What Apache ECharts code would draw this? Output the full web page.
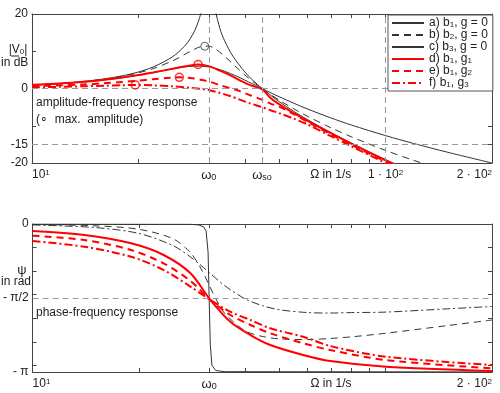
<!DOCTYPE html>
<html><head><meta charset="utf-8">
<script src="https://cdn.jsdelivr.net/npm/echarts@6/dist/echarts.min.js"></script>
<style>html,body{margin:0;padding:0;background:#fff}#c{width:500px;height:393px}</style>
</head><body><div id="c"></div>
<script>
// ---------- DATA ----------
// Amplitude-frequency response (dB) vs Omega (1/s)
const omegaC = [10,12,14,16,18,20,22,25,27,28,29,30,30.5,31,32,32.5,33,34,35,37,40,42,45,50,55,60,70,80,90,100,110];
const ampC   = [0.92,1.35,1.90,2.57,3.41,4.44,5.76,8.54,11.34,13.31,15.97,20.0,23.1,28.2,32.4,25.0,21.0,16.1,12.96,8.66,4.44,2.34,-0.21,-3.52,-6.13,-8.30,-11.82,-14.65,-17.03,-19.08,-20.9];
const omegaAB = [10,12,14,16,18,20,22,25,28,30,31.62,33,35,38,40,42,45,50,55,60,70,80,100,120,150,200];
const ampA   = [0.9,1.3,1.76,2.3,2.91,3.58,4.28,5.28,5.95,6.0,5.78,5.41,4.66,3.26,2.25,1.28,-0.14,-2.21,-3.95,-5.46,-7.89,-9.80,-12.65,-14.75,-17.13,-20.0];
const ampB   = [0.91,1.34,1.86,2.51,3.28,4.22,5.34,7.44,9.93,11.24,11.38,10.64,8.71,5.55,3.63,1.98,-0.21,-3.13,-5.45,-7.41,-10.53,-12.97,-16.62,-19.28,-22.25,-25.7];
const omegaD = [10,12,14,16,18,20,22,25,28,29.5,31.62,34,36.3,38.7,41.4,44.7,47.1,50.3,55,60,70,80,100,120];
const ampD   = [1.0,1.35,1.8,2.35,2.95,3.6,4.3,5.3,6.15,6.45,6.0,4.8,3.6,2.2,0.9,-0.2,-2.4,-4.4,-6.6,-8.6,-12.0,-14.8,-19.3,-22.8];
const omegaE = [10,12,14,16,18,20,22,24,26.1,28,30,31.62,34,36.3,38.7,41.4,44.7,47.1,50.3,55,60,70,80,100,120];
const ampE   = [0.65,0.85,1.1,1.4,1.75,2.1,2.5,2.8,3.0,2.85,2.35,1.9,0.9,0.1,-0.7,-1.8,-3.0,-4.0,-5.0,-6.9,-8.9,-12.3,-15.1,-19.6,-23.1];
const omegaF = [10,12,14,16,18,19.6,22,25,28,31.62,34,36.3,38.7,41.4,44.7,47.1,50.3,55,60,70,80,100,120];
const ampF   = [0.3,0.45,0.6,0.75,0.88,0.94,0.85,0.6,0.2,-0.4,-1.2,-2.0,-3.0,-4.0,-5.0,-5.8,-6.7,-8.1,-9.6,-12.8,-15.5,-20.0,-23.5];
// maximum-amplitude markers [Omega, dB]
const peakB = [30.8, 11.35];
const peakD = [29.5, 6.45];
const peakE = [26.1, 3.0];
const peakF = [19.6, 0.94];

// Phase-frequency response (rad)
const omegaPc = [10,28,29.5,30.5,31,31.4,31.62,31.85,32.2,33,35,200];
const phaseC  = [0,-0.005,-0.02,-0.06,-0.15,-0.6,-1.571,-2.55,-3.0,-3.11,-3.135,-3.14];
const omegaPab = [10,15,20,25,28,30,31.62,33,35,40,45,50,60,70,80,100,150,200];
const phaseA  = [-0.02,-0.075,-0.20,-0.46,-0.70,-0.88,-1.03,-1.15,-1.31,-1.59,-1.74,-1.82,-1.88,-1.89,-1.88,-1.87,-1.80,-1.75];
const phaseB  = [-0.01,-0.038,-0.112,-0.315,-0.611,-0.951,-1.298,-1.583,-1.898,-2.268,-2.391,-2.438,-2.452,-2.429,-2.395,-2.319,-2.155,-2.039];
const omegaPr = [10,14,19,23.5,28,31.9,36.3,41.4,47.1,58.4,69.6,100,200];
const phaseD  = [-0.149,-0.234,-0.41,-0.658,-1.047,-1.614,-2.074,-2.357,-2.569,-2.781,-2.909,-3.03,-3.12];
const phaseE  = [-0.248,-0.34,-0.552,-0.834,-1.21,-1.614,-1.932,-2.144,-2.32,-2.532,-2.675,-2.887,-3.064];
const phaseF  = [-0.361,-0.482,-0.694,-0.977,-1.331,-1.614,-1.862,-2.038,-2.214,-2.393,-2.59,-2.817,-2.994];

// Axis ticks / labels
const xTickVals = [20, 31.62, 40, 50, 60, 70, 80, 90, 100];
const topXLabelVals = [10, 31.62, 44.72, 70, 100, 200];
const topXLabels = ['10{sup|1}', '{g|ω}{sub|0}', '{g|ω}{sub|so}', 'Ω in 1/s', '1 · 10{sup|2}', '2 · 10{sup|2}'];
const botXLabelVals = [10, 31.62, 70, 200];
const botXLabels = ['10{sup|1}', '{g|ω}{sub|0}', 'Ω in 1/s', '2 · 10{sup|2}'];
const ampTicks = [-20, -15, -10, 0, 10, 20];
const ampLabelVals = [-20, -15, 0, 20];
const phaseTicks = [0, -0.5, -1, -1.5, -2, -2.5, -3];
const phaseLabelVals = [-Math.PI, -Math.PI / 2, 0];
const phaseLabels = ['- π', '- π/2', '0'];
const ampGridX = [31.62, 44.72, 100];
const ampGridY = [0, -15];
const phaseGridY = [-Math.PI / 2];
const legendNames = ['a) b1, g = 0', 'b) b2, g = 0', 'c) b3, g = 0', 'd) b1, g1', 'e) b1, g2', 'f) b1, g3'];

// ---------- CHART ----------
const FONT = '"Liberation Sans", Arial, sans-serif';
const TXT = '#222';
const AX = '#444';
const RED = '#ff0000';
const BLK = '#333';
const pair = (xs, ys) => xs.map((x, i) => [x, ys[i]]);
const LOG = v => Math.log10(v);
const DEC_MIN = 1, DEC_MAX = Math.log10(200);
function lookup(vals, labels) {
  return v => { let b = 0, bd = Infinity; vals.forEach((x, i) => { const d = Math.abs(x - v); if (d < bd) { bd = d; b = i; } }); return labels[b]; };
}
const richX = {
  sup: { fontSize: 8, verticalAlign: 'top', fontFamily: FONT, color: TXT },
  sub: { fontSize: 9, verticalAlign: 'bottom', fontFamily: FONT, color: TXT },
  g: { fontSize: 13, fontFamily: FONT, color: TXT }
};
function decoX(grid, pos, vals, labels) {
  return {
    type: 'value', gridIndex: grid, position: pos, min: DEC_MIN, max: DEC_MAX,
    splitLine: { show: false },
    axisLine: { show: true, onZero: false, lineStyle: { color: AX, width: 1 } },
    axisTick: { show: true, inside: true, length: 4, customValues: xTickVals.map(LOG), lineStyle: { color: AX } },
    axisLabel: vals ? {
      show: true, customValues: vals.map(LOG), formatter: lookup(vals.map(LOG), labels),
      rich: richX, fontSize: 12, fontFamily: FONT, color: TXT, margin: 6,
      alignMinLabel: 'left', alignMaxLabel: 'right', hideOverlap: false
    } : { show: false }
  };
}
function yAx(grid, pos, min, max, ticks, lvals, labels) {
  return {
    type: 'value', gridIndex: grid, position: pos, min: min, max: max,
    splitLine: { show: false },
    axisLine: { show: true, onZero: false, lineStyle: { color: AX, width: 1 } },
    axisTick: { show: true, inside: true, length: 4, customValues: ticks, lineStyle: { color: AX } },
    axisLabel: lvals ? {
      show: true, customValues: lvals, formatter: lookup(lvals, labels),
      fontSize: 12, fontFamily: FONT, color: TXT, margin: 4, hideOverlap: false
    } : { show: false }
  };
}
function line(name, xi, yi, data, color, width, type, z) {
  return {
    type: 'line', name: name, xAxisIndex: xi, yAxisIndex: yi, data: data,
    showSymbol: false, symbol: 'none', smooth: 0.3, clip: true, z: z || 3,
    lineStyle: { color: color, width: width, type: type },
    itemStyle: { color: color }, animation: false, silent: true
  };
}
function peak(pt, color, w) {
  return {
    type: 'scatter', xAxisIndex: 0, yAxisIndex: 0, data: [pt], symbol: 'circle', symbolSize: 8, z: 6,
    itemStyle: { color: 'rgba(0,0,0,0)', borderColor: color, borderWidth: w }, animation: false, silent: true
  };
}
const gridLineStyle = { color: '#999', width: 1, type: [6, 4] };
const DASH = [7, 5];
const DASHDOT = [8, 3, 2, 3];

const chart = echarts.init(document.getElementById('c'), null, { renderer: 'canvas' });
chart.setOption({
  animation: false,
  backgroundColor: '#fff',
  textStyle: { fontFamily: FONT },
  grid: [
    { left: 32, right: 8, top: 14, height: 149 },
    { left: 32, right: 8, top: 224, height: 148 }
  ],
  xAxis: [
    { type: 'log', logBase: 10, gridIndex: 0, min: 10, max: 200, show: false },
    decoX(0, 'bottom', topXLabelVals, topXLabels),
    decoX(0, 'top', null, null),
    { type: 'log', logBase: 10, gridIndex: 1, min: 10, max: 200, show: false },
    decoX(1, 'bottom', botXLabelVals, botXLabels),
    decoX(1, 'top', null, null)
  ],
  yAxis: [
    yAx(0, 'left', -20, 20, ampTicks, ampLabelVals, ampLabelVals.map(String)),
    yAx(0, 'right', -20, 20, ampTicks, null, null),
    yAx(1, 'left', -Math.PI, 0, phaseTicks, phaseLabelVals, phaseLabels),
    yAx(1, 'right', -Math.PI, 0, phaseTicks, null, null)
  ],
  legend: {
    data: legendNames, orient: 'vertical', left: 388, top: 15,
    itemWidth: 32, itemHeight: 10, itemGap: 0, padding: [2, 5, 2, 3],
    borderColor: '#555', borderWidth: 1, backgroundColor: '#fff', z: 10,
    selectedMode: false,
    itemStyle: { opacity: 0, color: 'rgba(0,0,0,0)', borderColor: 'rgba(0,0,0,0)', borderWidth: 0 },
    formatter: n => n.replace(/b(\d)/, 'b{s|$1}').replace(/g(\d)/, 'g{s|$1}'),
    textStyle: {
      fontSize: 12, fontFamily: FONT, color: TXT, lineHeight: 12, padding: [0, 0, 0, 0],
      rich: { s: { fontSize: 8, verticalAlign: 'bottom', fontFamily: FONT, color: TXT, lineHeight: 12 } }
    }
  },
  series: [
    {
      type: 'line', xAxisIndex: 0, yAxisIndex: 0, data: [[10, 0]], symbol: 'none', z: 1,
      lineStyle: { opacity: 0 }, silent: true,
      markLine: {
        silent: true, symbol: ['none', 'none'], label: { show: false }, lineStyle: gridLineStyle, animation: false,
        data: ampGridX.map(v => ({ xAxis: v })).concat(ampGridY.map(v => ({ yAxis: v })))
      }
    },
    {
      type: 'line', xAxisIndex: 3, yAxisIndex: 2, data: [[10, 0]], symbol: 'none', z: 1,
      lineStyle: { opacity: 0 }, silent: true,
      markLine: {
        silent: true, symbol: ['none', 'none'], label: { show: false }, lineStyle: gridLineStyle, animation: false,
        data: phaseGridY.map(v => ({ yAxis: v }))
      }
    },
    line(legendNames[0], 0, 0, pair(omegaAB, ampA), BLK, 1, 'solid'),
    line(legendNames[1], 0, 0, pair(omegaAB, ampB), BLK, 1, DASH),
    line(legendNames[2], 0, 0, pair(omegaC, ampC), BLK, 1, 'solid'),
    line(legendNames[3], 0, 0, pair(omegaD, ampD), RED, 2, 'solid', 4),
    line(legendNames[4], 0, 0, pair(omegaE, ampE), RED, 2, DASH, 4),
    line(legendNames[5], 0, 0, pair(omegaF, ampF), RED, 2, DASHDOT, 4),
    peak(peakB, BLK, 1),
    peak(peakD, RED, 1.5),
    peak(peakE, RED, 1.5),
    peak(peakF, RED, 1.5),
    line('pa', 3, 2, pair(omegaPab, phaseA), BLK, 1, DASHDOT),
    line('pb', 3, 2, pair(omegaPab, phaseB), BLK, 1, DASH),
    Object.assign(line('pc', 3, 2, pair(omegaPc, phaseC), BLK, 1, 'solid'), { smooth: false }),
    line('pd', 3, 2, pair(omegaPr, phaseD), RED, 2, 'solid', 4),
    line('pe', 3, 2, pair(omegaPr, phaseE), RED, 2, DASH, 4),
    line('pf', 3, 2, pair(omegaPr, phaseF), RED, 2, DASHDOT, 4)
  ],
  graphic: [
    { type: 'text', x: 36, y: 103, style: { text: 'amplitude-frequency response', font: '12px ' + FONT, fill: TXT, verticalAlign: 'middle' } },
    { type: 'text', x: 36, y: 120, style: { text: '(∘  max.  amplitude)', font: '12px ' + FONT, fill: TXT, verticalAlign: 'middle' } },
    { type: 'text', x: 36, y: 313, style: { text: 'phase-frequency response', font: '12px ' + FONT, fill: TXT, verticalAlign: 'middle' } },
    { type: 'text', x: 18, y: 50, style: { text: '|V{s|0}|', font: '12px ' + FONT, fill: TXT, align: 'center', verticalAlign: 'middle',
        rich: { s: { fontSize: 8, verticalAlign: 'bottom', fontFamily: FONT, fill: TXT } } } },
    { type: 'line', shape: { x1: 11, y1: 56, x2: 19, y2: 56 }, style: { stroke: TXT, lineWidth: 1 } },
    { type: 'text', x: 1, y: 63, style: { text: 'in dB', font: '12px ' + FONT, fill: TXT, align: 'left', verticalAlign: 'middle' } },
    { type: 'text', x: 22, y: 270, style: { text: 'ψ', font: '13px ' + FONT, fill: TXT, align: 'center', verticalAlign: 'middle' } },
    { type: 'text', x: 1, y: 282, style: { text: 'in rad', font: '12px ' + FONT, fill: TXT, align: 'left', verticalAlign: 'middle' } }
  ]
});
</script>
</body></html>
